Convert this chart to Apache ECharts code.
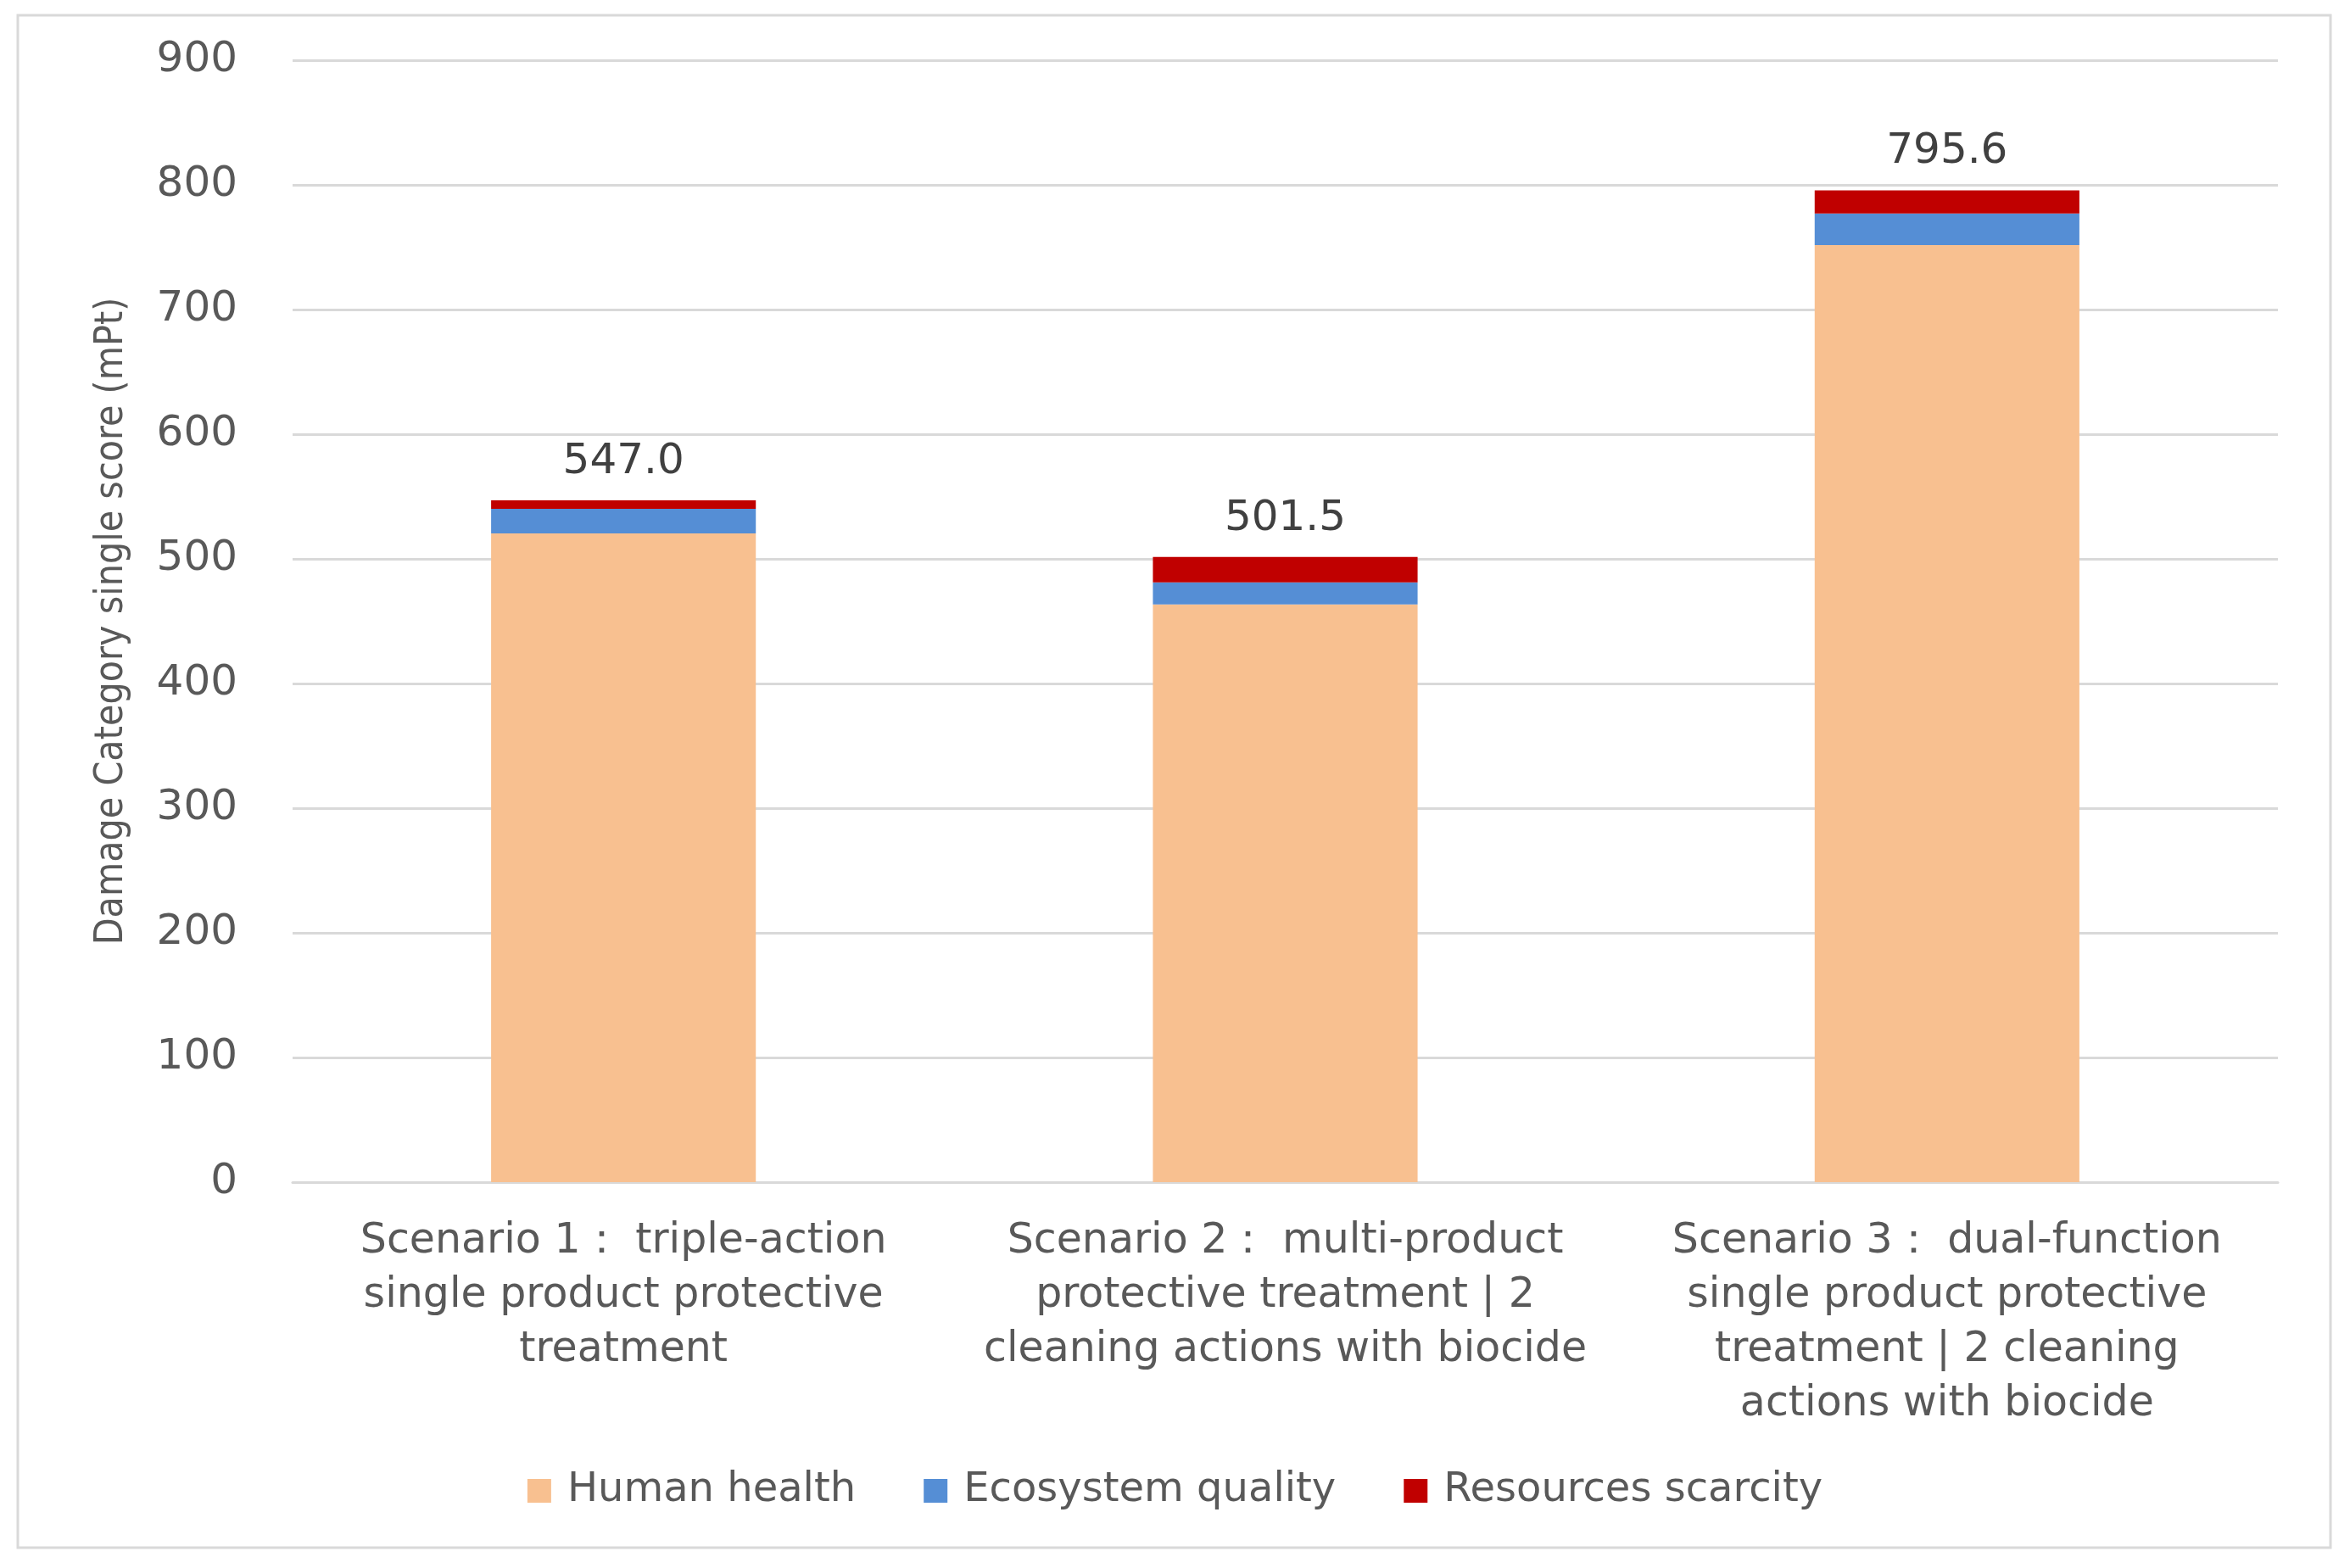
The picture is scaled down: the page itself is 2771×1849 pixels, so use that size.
<!DOCTYPE html>
<html>
<head>
<meta charset="utf-8">
<script src="https://cdn.jsdelivr.net/npm/echarts@6/dist/echarts.min.js"></script>
<style>
html,body{margin:0;padding:0;background:#fff;}
#chart{width:2771px;height:1849px;}
</style>
</head>
<body>
<div id="chart"></div>
<script>
const categories = [
  "Scenario 1： triple-action\nsingle product protective\ntreatment",
  "Scenario 2： multi-product\nprotective treatment | 2\ncleaning actions with biocide",
  "Scenario 3： dual-function\nsingle product protective\ntreatment | 2 cleaning\nactions with biocide"
];
const humanHealth = [520.4, 463.5, 751.7];
const ecosystemQuality = [19.8, 17.7, 25.4];
const resourcesScarcity = [6.8, 20.3, 18.5];
const totals = ["547.0", "501.5", "795.6"];
const yTicks = { min: 0, max: 900, interval: 100 };

const textColor = '#595959';
const font = 'DejaVu Sans';

const chart = echarts.init(document.getElementById('chart'));
chart.setOption({
  backgroundColor: '#ffffff',
  animation: false,
  graphic: [{
    type: 'rect',
    shape: { x: 21, y: 18, width: 2727, height: 1807 },
    style: { fill: 'none', stroke: '#d9d9d9', lineWidth: 3 }
  }],
  grid: { left: 345, right: 85, top: 71, bottom: 455 },
  legend: {
    left: 'center',
    top: 1729,
    itemWidth: 28,
    itemHeight: 28,
    itemGap: 80,
    icon: 'rect',
    textStyle: { fontFamily: font, fontSize: 48, color: textColor, padding: [0, 0, 0, 14] },
    data: ['Human health', 'Ecosystem quality', 'Resources scarcity']
  },
  xAxis: {
    type: 'category',
    data: categories,
    axisLine: { lineStyle: { color: '#d9d9d9', width: 3 } },
    axisTick: { show: false },
    axisLabel: {
      interval: 0,
      margin: 38,
      fontFamily: font,
      fontSize: 49,
      lineHeight: 64,
      color: textColor,
      align: 'center'
    }
  },
  yAxis: {
    type: 'value',
    min: yTicks.min,
    max: yTicks.max,
    interval: yTicks.interval,
    name: 'Damage Category single score (mPt)',
    nameLocation: 'middle',
    nameRotate: 90,
    nameGap: 190,
    nameTextStyle: { fontFamily: 'Liberation Sans Narrow, DejaVu Sans Condensed', fontSize: 46, color: textColor },
    axisLine: { show: false },
    axisTick: { show: false },
    splitLine: { lineStyle: { color: '#d9d9d9', width: 3 } },
    axisLabel: { fontFamily: font, fontSize: 50, color: textColor, margin: 65 }
  },
  series: [
    {
      name: 'Human health', type: 'bar', stack: 'total', barWidth: '40%',
      itemStyle: { color: '#F8C090' }, data: humanHealth
    },
    {
      name: 'Ecosystem quality', type: 'bar', stack: 'total',
      itemStyle: { color: '#558ED5' }, data: ecosystemQuality
    },
    {
      name: 'Resources scarcity', type: 'bar', stack: 'total',
      itemStyle: { color: '#C00000' }, data: resourcesScarcity,
      label: {
        show: true, position: 'top', distance: 20,
        fontFamily: font, fontSize: 50, color: '#404040',
        formatter: p => totals[p.dataIndex]
      }
    }
  ]
});
</script>
</body>
</html>
